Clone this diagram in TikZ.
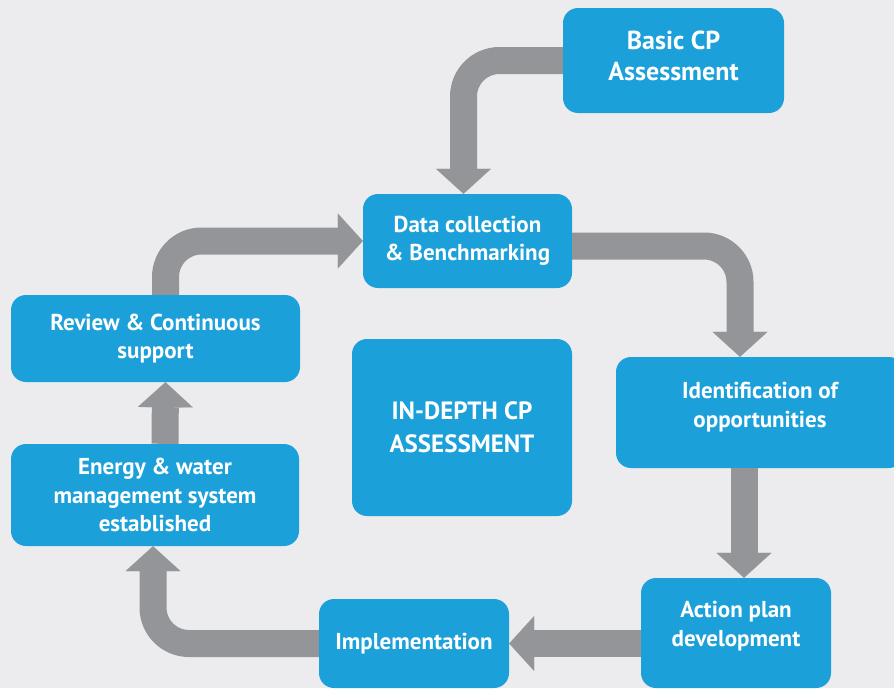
\documentclass[tikz,border=0pt]{standalone}
\usepackage{fontspec}
\setmainfont{PT Sans}
\usetikzlibrary{arrows.meta}

\definecolor{cpblue}{HTML}{1CA0DA}
\definecolor{cpgrey}{HTML}{949599}
\definecolor{cpback}{HTML}{ECECEE}

\tikzset{
  stage/.style={fill=cpblue, rounded corners=15pt, text=white, align=center,
    inner sep=0pt, font=\bfseries\fontsize{23}{28.5}\selectfont},
  flow/.style={draw=cpgrey, line width=27pt, rounded corners=36pt,
    -{Triangle[width=55pt,length=25pt,line width=0.1pt]}},
}

\begin{document}
\begin{tikzpicture}[x=1pt,y=-1pt]

	% canvas: same size as the reference, pixel coordinates (y down)
	\useasboundingbox (0,0) rectangle (894,688);
	\clip (0,0) rectangle (894,688);
	\fill[cpback] (0,0) rectangle (894,688);

	% the stages of the cycle (text depth lifts the text a little)
	\node[stage, minimum width=221pt, minimum height=105pt, text depth=10pt,
		font=\bfseries\fontsize{26}{31}\selectfont] (basic) at (673.5,60.5) {Basic CP\\Assessment};
	\node[stage, minimum width=209pt, minimum height=94pt] (data) at (467.5,241) {Data collection\\\& Benchmarking};
	\node[stage, minimum width=288pt, minimum height=111pt, text depth=15pt] (ident) at (760,412.5) {Identification of\\opportunities};
	\node[stage, minimum width=190pt, minimum height=110pt, text depth=18pt] (action) at (736,633) {Action plan\\development};
	\node[stage, minimum width=190pt, minimum height=89pt] (impl) at (414,643.5) {Implementation};
	\node[stage, minimum width=288pt, minimum height=102pt] (energy) at (155,495) {Energy \& water\\management system\\established};
	\node[stage, minimum width=289pt, minimum height=87pt] (review) at (155.5,338.5) {Review \& Continuous\\support};

	% centre box
	\node[stage, minimum width=220pt, minimum height=177pt,
		font=\bfseries\fontsize{25}{33}\selectfont] (indepth) at (462,427.5) {IN-DEPTH CP\\ASSESSMENT};

	%%%%%%%%%%%%%%%%%%%%%%%%%%%%%%%%%%%%%%%%%%%%%%%%%%%%%%%%%%%%%%
	% grey arrows between the stages
	\draw[flow] (basic.west) -| ([xshift=-4pt]data.north);
	\draw[flow] ([yshift=-5pt]data.east) -| ([xshift=-20pt]ident.north);
	\draw[flow] ([xshift=8pt]action.north |- ident.south) -- ([xshift=8pt]action.north);
	\draw[flow] (action.west |- impl.east) -- (impl.east);
	\draw[flow] (impl.west) -| ([xshift=-2pt]energy.south);
	\draw[flow] ([xshift=10pt]energy.north) -- ([xshift=10pt]review.south);
	\draw[flow] ([xshift=10pt]review.north) |- (data.west);

\end{tikzpicture}
\end{document}
